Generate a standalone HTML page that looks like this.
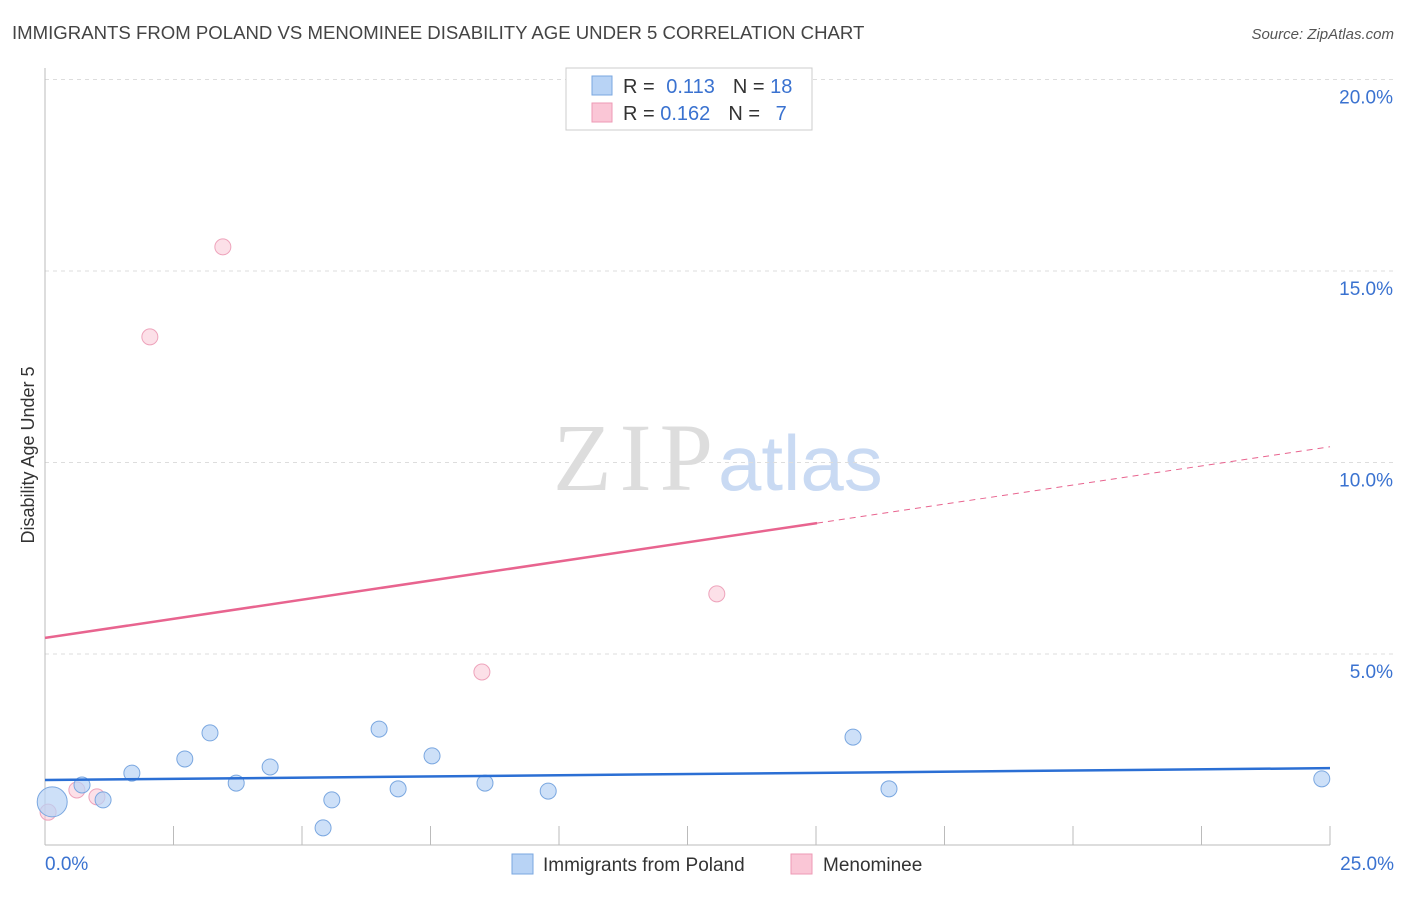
<!DOCTYPE html>
<html><head><meta charset="utf-8"><style>
body{margin:0;background:#fff;font-family:"Liberation Sans",sans-serif;}
svg text{font-family:"Liberation Sans",sans-serif;}
</style></head><body>
<svg id="chart" width="1406" height="892">
<text x="12" y="39" font-size="18.6" fill="#444">IMMIGRANTS FROM POLAND VS MENOMINEE DISABILITY AGE UNDER 5 CORRELATION CHART</text>
<text x="1394" y="39" font-size="15" fill="#555" font-style="italic" text-anchor="end">Source: ZipAtlas.com</text>
<text x="34" y="455" font-size="18" fill="#333" text-anchor="middle" transform="rotate(-90 34 455)">Disability Age Under 5</text>
<g><text x="553" y="490" font-size="96" fill="#ddd" style="font-family:'Liberation Serif',serif" textLength="160">ZIP</text><text x="718" y="490" font-size="78" fill="#c9daf3">atlas</text></g>
<g id="grid"></g><g id="axes"></g><g id="marks"></g>
<g>
<rect x="566" y="68" width="246" height="62" fill="#fff" stroke="#ccc"/>
<rect x="592" y="76" width="20" height="19" fill="#b8d3f5" stroke="#7aa7e0"/>
<rect x="592" y="103" width="20" height="19" fill="#fac6d6" stroke="#ee9ab5"/>
<text x="623" y="93" font-size="20" fill="#333">R = <tspan fill="#3a72d0" dx="6">0.113</tspan><tspan dx="18" fill="#333">N = </tspan><tspan fill="#3a72d0">18</tspan></text>
<text x="623" y="120" font-size="20" fill="#333">R = <tspan fill="#3a72d0">0.162</tspan><tspan dx="18" fill="#333">N = </tspan><tspan fill="#3a72d0" dx="10">7</tspan></text>
</g>
<g>
<rect x="512" y="854" width="21" height="20" fill="#b8d3f5" stroke="#7aa7e0"/>
<text x="543" y="871" font-size="19" fill="#333">Immigrants from Poland</text>
<rect x="791" y="854" width="21" height="20" fill="#fac6d6" stroke="#ee9ab5"/>
<text x="823" y="871" font-size="19" fill="#333">Menominee</text>
</g>
</svg>
<script>
const polandX=[0.14,0.72,1.13,1.69,2.72,3.21,3.72,4.38,5.41,5.58,6.5,6.87,7.53,8.56,9.79,15.72,16.42,24.84];
const polandY=[1.14,1.58,1.19,1.89,2.26,2.94,1.63,2.05,0.46,1.19,3.04,1.48,2.34,1.63,1.42,2.83,1.48,1.74];
const menX=[0.06,0.62,1.01,2.04,3.46,8.5,13.07];
const menY=[0.87,1.45,1.27,13.28,15.63,4.53,6.57];
const yTicks=[5,10,15,20];
const yTickLabels=["5.0%","10.0%","15.0%","20.0%"];
const xTicks=[0,2.5,5,7.5,10,12.5,15,17.5,20,22.5,25];
const polandTrend=[1.71,2.02];
const menTrend=[5.42,10.41];
const menSolidEnd=15.02;
const NS="http://www.w3.org/2000/svg";
const sx=v=>45+v*51.4, sy=v=>845.5-v*38.3;
function mk(tag,attrs,parent){const e=document.createElementNS(NS,tag);for(const k in attrs)e.setAttribute(k,attrs[k]);document.getElementById(parent).appendChild(e);return e;}
yTicks.forEach((t,i)=>{
 const g=mk('line',{x1:45,x2:1394,y1:sy(t),y2:sy(t),stroke:'#ddd','stroke-dasharray':'4,4'},'grid');
 
 
 const l=mk('text',{x:1393,y:sy(t)+24,'font-size':19,fill:'#3a72d0','text-anchor':'end'},'grid');l.textContent=yTickLabels[i];
 
 
});
const ax=mk('line',{x1:45,x2:45,y1:68,y2:845,stroke:'#bbb'},'axes');


const bx=mk('line',{x1:45,x2:1330,y1:845,y2:845,stroke:'#bbb'},'axes');


xTicks.forEach(t=>{const k=mk('line',{x1:sx(t),x2:sx(t),y1:826,y2:845,stroke:'#bbb'},'axes');
 
 });
const x0=mk('text',{x:45,y:870,'font-size':19,fill:'#3a72d0'},'axes');x0.textContent='0.0%';


const x1=mk('text',{x:1394,y:870,'font-size':19,fill:'#3a72d0','text-anchor':'end'},'axes');x1.textContent='25.0%';


menX.forEach((x,i)=>{const c=mk('circle',{cx:sx(x),cy:sy(menY[i]),r:8,fill:'#fac6d6','fill-opacity':0.55,stroke:'#eea3bb'},'marks');
 
 });
polandX.forEach((x,i)=>{const c=mk('circle',{cx:sx(x),cy:sy(polandY[i]),r:i===0?15:8,fill:'#b8d3f5','fill-opacity':0.7,stroke:'#7aa7e0'},'marks');
 
 });
const mAt=x=>menTrend[0]+(menTrend[1]-menTrend[0])*x/25;
const m1=mk('line',{x1:sx(0),y1:sy(mAt(0)),x2:sx(menSolidEnd),y2:sy(mAt(menSolidEnd)),stroke:'#e8648f','stroke-width':2.5},'marks');


const m2=mk('line',{x1:sx(menSolidEnd),y1:sy(mAt(menSolidEnd)),x2:sx(25),y2:sy(mAt(25)),stroke:'#e8648f','stroke-width':1,'stroke-dasharray':'6,5'},'marks');


const p=mk('line',{x1:sx(0),y1:sy(polandTrend[0]),x2:sx(25),y2:sy(polandTrend[1]),stroke:'#2b6fd4','stroke-width':2.5},'marks');


</script>
</body></html>
